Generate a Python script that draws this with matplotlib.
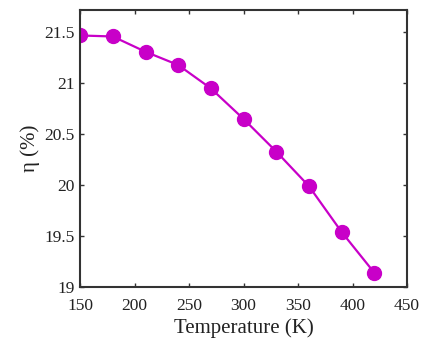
import matplotlib
matplotlib.use('Agg')
import matplotlib.pyplot as plt

temperature = [150, 180, 210, 240, 270, 300, 330, 360, 390, 420]
efficiency = [21.47, 21.46, 21.31, 21.18, 20.95, 20.65, 20.33, 19.99, 19.54, 19.14]

xticks = [150, 200, 250, 300, 350, 400, 450]
yticks = [19, 19.5, 20, 20.5, 21, 21.5]
ytick_labels = ['19', '19.5', '20', '20.5', '21', '21.5']

plt.rcParams['font.family'] = ['Liberation Serif', 'DejaVu Serif']

fig = plt.figure(figsize=(4.24, 3.45), dpi=100)
ax = fig.add_axes([0.189, 0.168, 0.771, 0.803])

ax.plot(temperature, efficiency, color='#c800c8', linewidth=1.6,
        marker='o', markersize=10, markerfacecolor='#c800c8',
        markeredgecolor='#c800c8')

ax.set_xlim(150, 450)
ax.set_ylim(19, 21.72)
ax.set_xticks(xticks)
ax.set_yticks(yticks)
ax.set_yticklabels(ytick_labels)

ax.tick_params(direction='in', length=3, width=1, top=True, right=True,
               labelsize=12.5, colors='#333333', labelcolor='#222222')
ax.tick_params(axis='x', pad=8)
ax.tick_params(axis='y', pad=4)
for spine in ax.spines.values():
    spine.set_linewidth(1.5)
    spine.set_color('#333333')

ax.set_xlabel('Temperature (K)', fontsize=15, color='#222222', labelpad=3)
ax.set_ylabel('η (%)', fontsize=15, color='#222222', labelpad=3)

fig.savefig('out.png', dpi=100)
